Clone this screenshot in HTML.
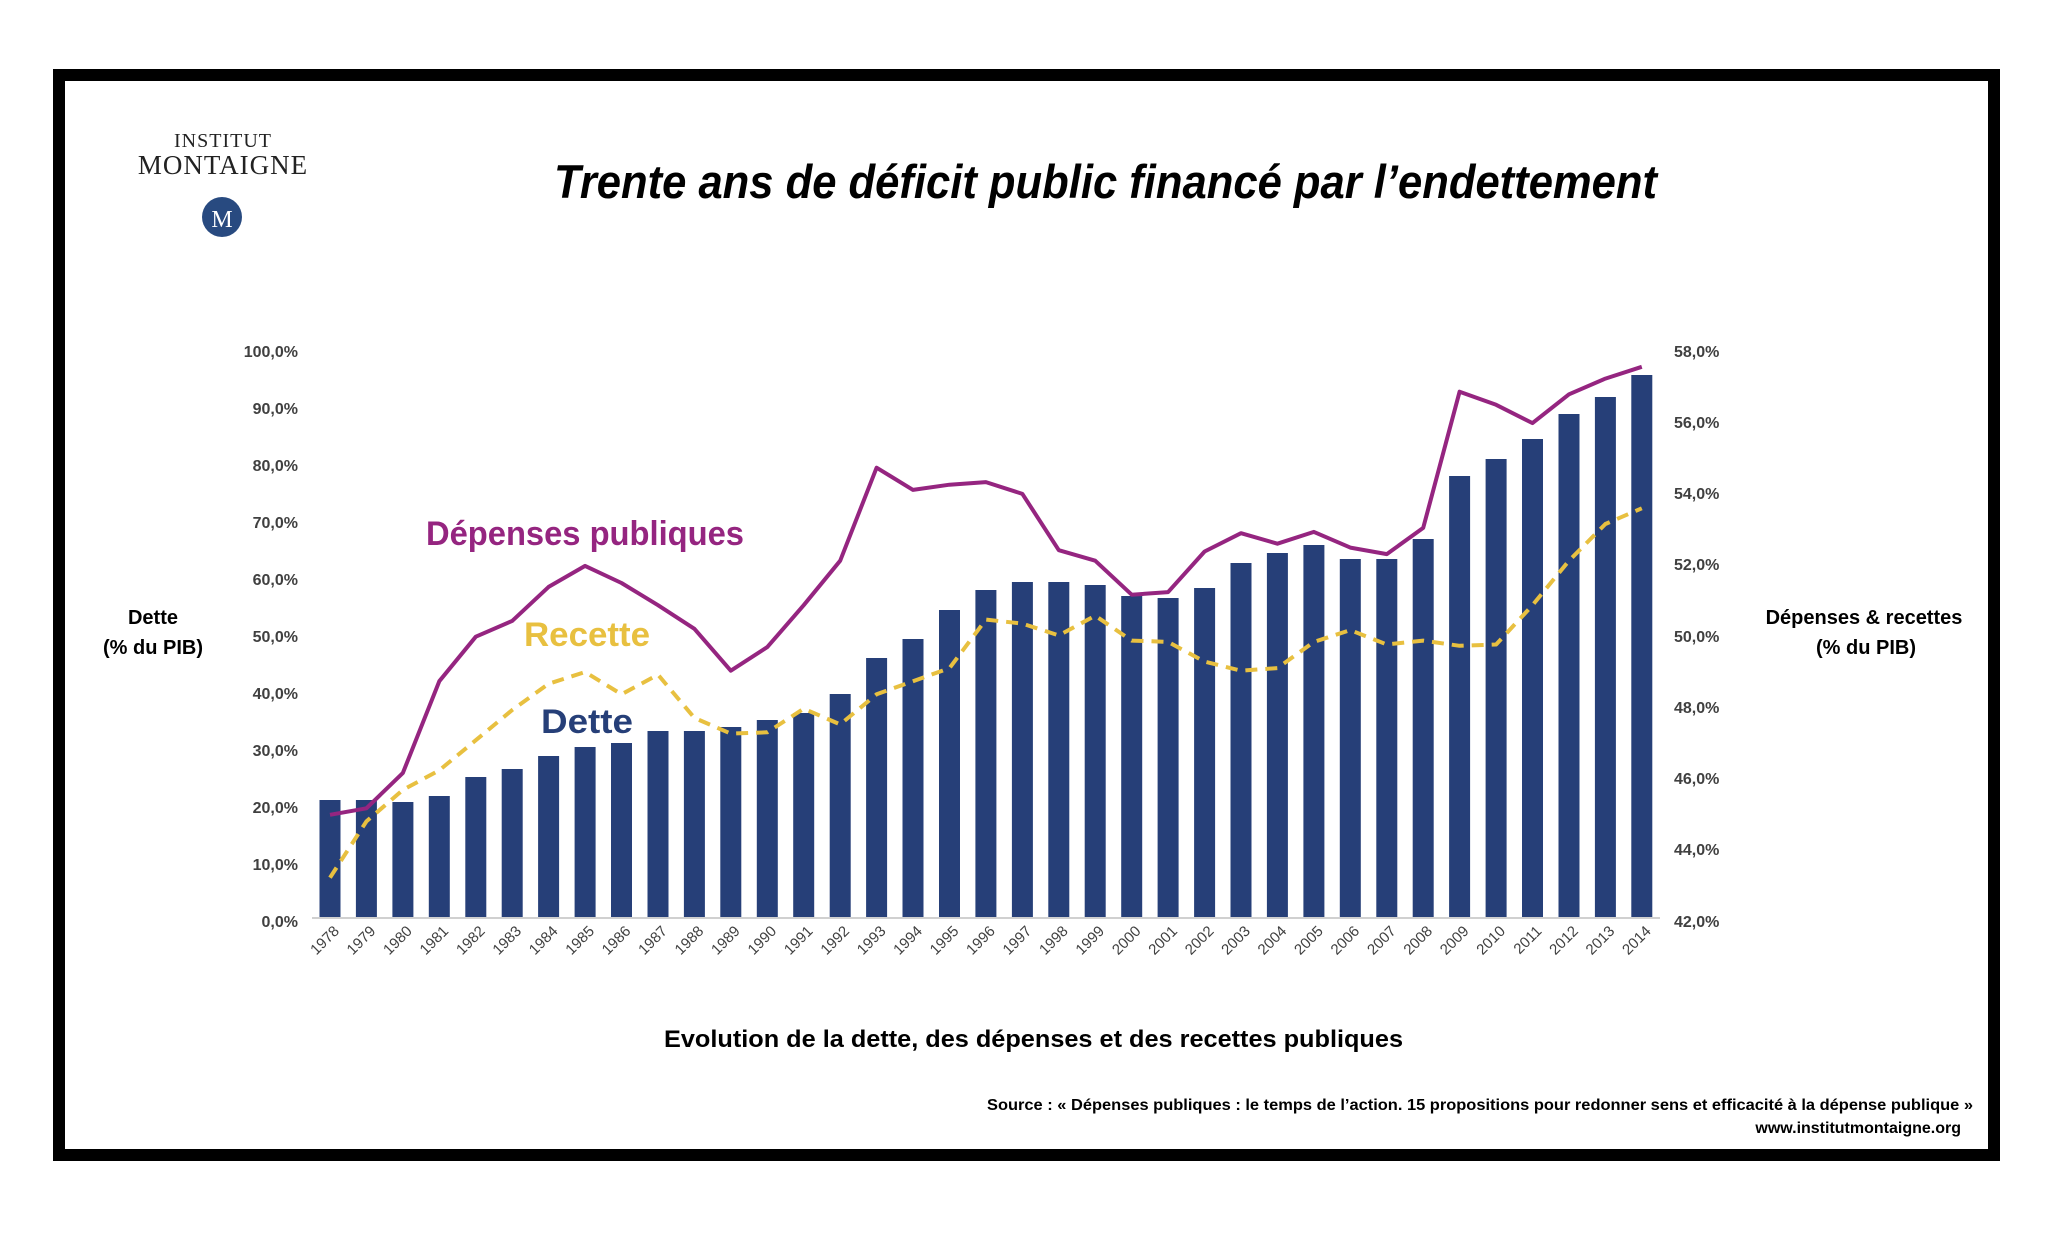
<!DOCTYPE html>
<html><head><meta charset="utf-8">
<style>
html,body{margin:0;padding:0;background:#fff;}
svg{display:block;}
text{font-family:"Liberation Sans",sans-serif;}
</style></head>
<body>
<svg width="2047" height="1243" viewBox="0 0 2047 1243" xmlns="http://www.w3.org/2000/svg">
<rect width="2047" height="1243" fill="#fff"/>
<rect x="59" y="75" width="1935" height="1080" fill="none" stroke="#000" stroke-width="12"/>

<!-- logo -->
<text x="223" y="147" text-anchor="middle" style="font-family:'Liberation Serif',serif" font-size="20" fill="#222" letter-spacing="1">INSTITUT</text>
<text x="223" y="174" text-anchor="middle" style="font-family:'Liberation Serif',serif" font-size="27" fill="#222" letter-spacing="1">MONTAIGNE</text>
<circle cx="222" cy="217" r="20" fill="#284a80"/>
<text x="222" y="227" text-anchor="middle" style="font-family:'Liberation Serif',serif" font-size="24" fill="#fff">M</text>

<!-- title -->
<text x="554" y="198" font-size="47" font-weight="bold" font-style="italic" fill="#000" textLength="1103" lengthAdjust="spacingAndGlyphs">Trente ans de déficit public financé par l’endettement</text>

<!-- left axis labels -->
<g font-size="16" font-weight="bold" fill="#404040" text-anchor="end">
<text x="298" y="357">100,0%</text>
<text x="298" y="414">90,0%</text>
<text x="298" y="471">80,0%</text>
<text x="298" y="528">70,0%</text>
<text x="298" y="585">60,0%</text>
<text x="298" y="642">50,0%</text>
<text x="298" y="699">40,0%</text>
<text x="298" y="756">30,0%</text>
<text x="298" y="813">20,0%</text>
<text x="298" y="870">10,0%</text>
<text x="298" y="927">0,0%</text>
</g>
<!-- right axis labels -->
<g font-size="16" font-weight="bold" fill="#404040">
<text x="1674" y="357">58,0%</text>
<text x="1674" y="428">56,0%</text>
<text x="1674" y="499">54,0%</text>
<text x="1674" y="570">52,0%</text>
<text x="1674" y="642">50,0%</text>
<text x="1674" y="713">48,0%</text>
<text x="1674" y="784">46,0%</text>
<text x="1674" y="855">44,0%</text>
<text x="1674" y="927">42,0%</text>
</g>

<g font-size="20" font-weight="bold" fill="#000" text-anchor="middle">
<text x="153" y="624">Dette</text>
<text x="153" y="654">(% du PIB)</text>
<text x="1864" y="624">Dépenses &amp; recettes</text>
<text x="1866" y="654">(% du PIB)</text>
</g>

<!-- axis line -->
<line x1="312" y1="918" x2="1660" y2="918" stroke="#d0d0d0" stroke-width="2"/>

<!-- bars -->
<g fill="#263f78">
<rect x="319.5" y="800" width="21" height="117"/>
<rect x="355.9" y="800" width="21" height="117"/>
<rect x="392.4" y="802" width="21" height="115"/>
<rect x="428.8" y="796" width="21" height="121"/>
<rect x="465.3" y="777" width="21" height="140"/>
<rect x="501.7" y="769" width="21" height="148"/>
<rect x="538.1" y="756" width="21" height="161"/>
<rect x="574.6" y="747" width="21" height="170"/>
<rect x="611" y="743" width="21" height="174"/>
<rect x="647.5" y="731" width="21" height="186"/>
<rect x="683.9" y="731" width="21" height="186"/>
<rect x="720.3" y="727" width="21" height="190"/>
<rect x="756.8" y="720" width="21" height="197"/>
<rect x="793.2" y="713" width="21" height="204"/>
<rect x="829.7" y="694" width="21" height="223"/>
<rect x="866.1" y="658" width="21" height="259"/>
<rect x="902.5" y="639" width="21" height="278"/>
<rect x="939" y="610" width="21" height="307"/>
<rect x="975.4" y="590" width="21" height="327"/>
<rect x="1011.9" y="582" width="21" height="335"/>
<rect x="1048.3" y="582" width="21" height="335"/>
<rect x="1084.7" y="585" width="21" height="332"/>
<rect x="1121.2" y="596" width="21" height="321"/>
<rect x="1157.6" y="598" width="21" height="319"/>
<rect x="1194.1" y="588" width="21" height="329"/>
<rect x="1230.5" y="563" width="21" height="354"/>
<rect x="1266.9" y="553" width="21" height="364"/>
<rect x="1303.4" y="545" width="21" height="372"/>
<rect x="1339.8" y="559" width="21" height="358"/>
<rect x="1376.3" y="559" width="21" height="358"/>
<rect x="1412.7" y="539" width="21" height="378"/>
<rect x="1449.1" y="476" width="21" height="441"/>
<rect x="1485.6" y="459" width="21" height="458"/>
<rect x="1522" y="439" width="21" height="478"/>
<rect x="1558.5" y="414" width="21" height="503"/>
<rect x="1594.9" y="397" width="21" height="520"/>
<rect x="1631.3" y="375" width="21" height="542"/>
</g>

<!-- recettes -->
<polyline fill="none" stroke="#e8c040" stroke-width="4" stroke-dasharray="12,8" stroke-linejoin="round"
points="330,877.7 366.4,821.4 402.9,789.9 439.3,770.3 475.8,740.2 512.2,710 548.6,683.8 585.1,672 621.5,694.3 658,674.7 694.4,717.9 730.8,733.6 767.3,732.3 803.7,708.7 840.2,724.4 876.6,694.3 913,681.2 949.5,668.1 985.9,619.6 1022.4,623.6 1058.8,635.4 1095.2,615.7 1131.7,640.6 1168.1,641.9 1204.6,661.6 1241,670.7 1277.4,668.1 1313.9,641.9 1350.3,630.1 1386.8,644.5 1423.2,640.6 1459.6,645.8 1496.1,644.5 1532.5,605.2 1569,560.7 1605.4,524 1641.8,508.3"/>

<!-- depenses -->
<polyline fill="none" stroke="#952580" stroke-width="4" stroke-linejoin="round"
points="330,814.8 366.4,808.3 402.9,772.9 439.3,681.2 475.8,636.7 512.2,620.9 548.6,586.9 585.1,565.9 621.5,583 658,605.2 694.4,628.8 730.8,670.7 767.3,647.1 803.7,605.2 840.2,560.7 876.6,467.7 913,489.9 949.5,484.7 985.9,482.1 1022.4,493.9 1058.8,550.2 1095.2,560.7 1131.7,594.7 1168.1,592.1 1204.6,551.5 1241,533.2 1277.4,543.7 1313.9,531.9 1350.3,547.6 1386.8,554.1 1423.2,527.9 1459.6,391.7 1496.1,404.8 1532.5,423.1 1569,394.3 1605.4,378.6 1641.8,366.8"/>

<!-- series labels -->
<text x="426" y="545" font-size="34" font-weight="bold" fill="#952580" textLength="318" lengthAdjust="spacingAndGlyphs">Dépenses publiques</text>
<text x="524" y="646" font-size="34" font-weight="bold" fill="#e8c040" textLength="126" lengthAdjust="spacingAndGlyphs">Recette</text>
<text x="541" y="733" font-size="34" font-weight="bold" fill="#263f78" textLength="92" lengthAdjust="spacingAndGlyphs">Dette</text>

<!-- year labels -->
<g font-size="15" fill="#404040" text-anchor="end">
<text transform="translate(340,932) rotate(-45)">1978</text>
<text transform="translate(376.4,932) rotate(-45)">1979</text>
<text transform="translate(412.9,932) rotate(-45)">1980</text>
<text transform="translate(449.3,932) rotate(-45)">1981</text>
<text transform="translate(485.8,932) rotate(-45)">1982</text>
<text transform="translate(522.2,932) rotate(-45)">1983</text>
<text transform="translate(558.6,932) rotate(-45)">1984</text>
<text transform="translate(595.1,932) rotate(-45)">1985</text>
<text transform="translate(631.5,932) rotate(-45)">1986</text>
<text transform="translate(668,932) rotate(-45)">1987</text>
<text transform="translate(704.4,932) rotate(-45)">1988</text>
<text transform="translate(740.8,932) rotate(-45)">1989</text>
<text transform="translate(777.3,932) rotate(-45)">1990</text>
<text transform="translate(813.7,932) rotate(-45)">1991</text>
<text transform="translate(850.2,932) rotate(-45)">1992</text>
<text transform="translate(886.6,932) rotate(-45)">1993</text>
<text transform="translate(923,932) rotate(-45)">1994</text>
<text transform="translate(959.5,932) rotate(-45)">1995</text>
<text transform="translate(995.9,932) rotate(-45)">1996</text>
<text transform="translate(1032.4,932) rotate(-45)">1997</text>
<text transform="translate(1068.8,932) rotate(-45)">1998</text>
<text transform="translate(1105.2,932) rotate(-45)">1999</text>
<text transform="translate(1141.7,932) rotate(-45)">2000</text>
<text transform="translate(1178.1,932) rotate(-45)">2001</text>
<text transform="translate(1214.6,932) rotate(-45)">2002</text>
<text transform="translate(1251,932) rotate(-45)">2003</text>
<text transform="translate(1287.4,932) rotate(-45)">2004</text>
<text transform="translate(1323.9,932) rotate(-45)">2005</text>
<text transform="translate(1360.3,932) rotate(-45)">2006</text>
<text transform="translate(1396.8,932) rotate(-45)">2007</text>
<text transform="translate(1433.2,932) rotate(-45)">2008</text>
<text transform="translate(1469.6,932) rotate(-45)">2009</text>
<text transform="translate(1506.1,932) rotate(-45)">2010</text>
<text transform="translate(1542.5,932) rotate(-45)">2011</text>
<text transform="translate(1579,932) rotate(-45)">2012</text>
<text transform="translate(1615.4,932) rotate(-45)">2013</text>
<text transform="translate(1651.8,932) rotate(-45)">2014</text>
</g>

<text x="664" y="1047" font-size="24" font-weight="bold" fill="#000" textLength="739" lengthAdjust="spacingAndGlyphs">Evolution de la dette, des dépenses et des recettes publiques</text>

<text x="1973" y="1110" text-anchor="end" font-size="16" font-weight="bold" fill="#000" textLength="986" lengthAdjust="spacingAndGlyphs">Source : « Dépenses publiques : le temps de l’action. 15 propositions pour redonner sens et efficacité à la dépense publique »</text>
<text x="1961" y="1133" text-anchor="end" font-size="16" font-weight="bold" fill="#000">www.institutmontaigne.org</text>
</svg>
</body></html>
